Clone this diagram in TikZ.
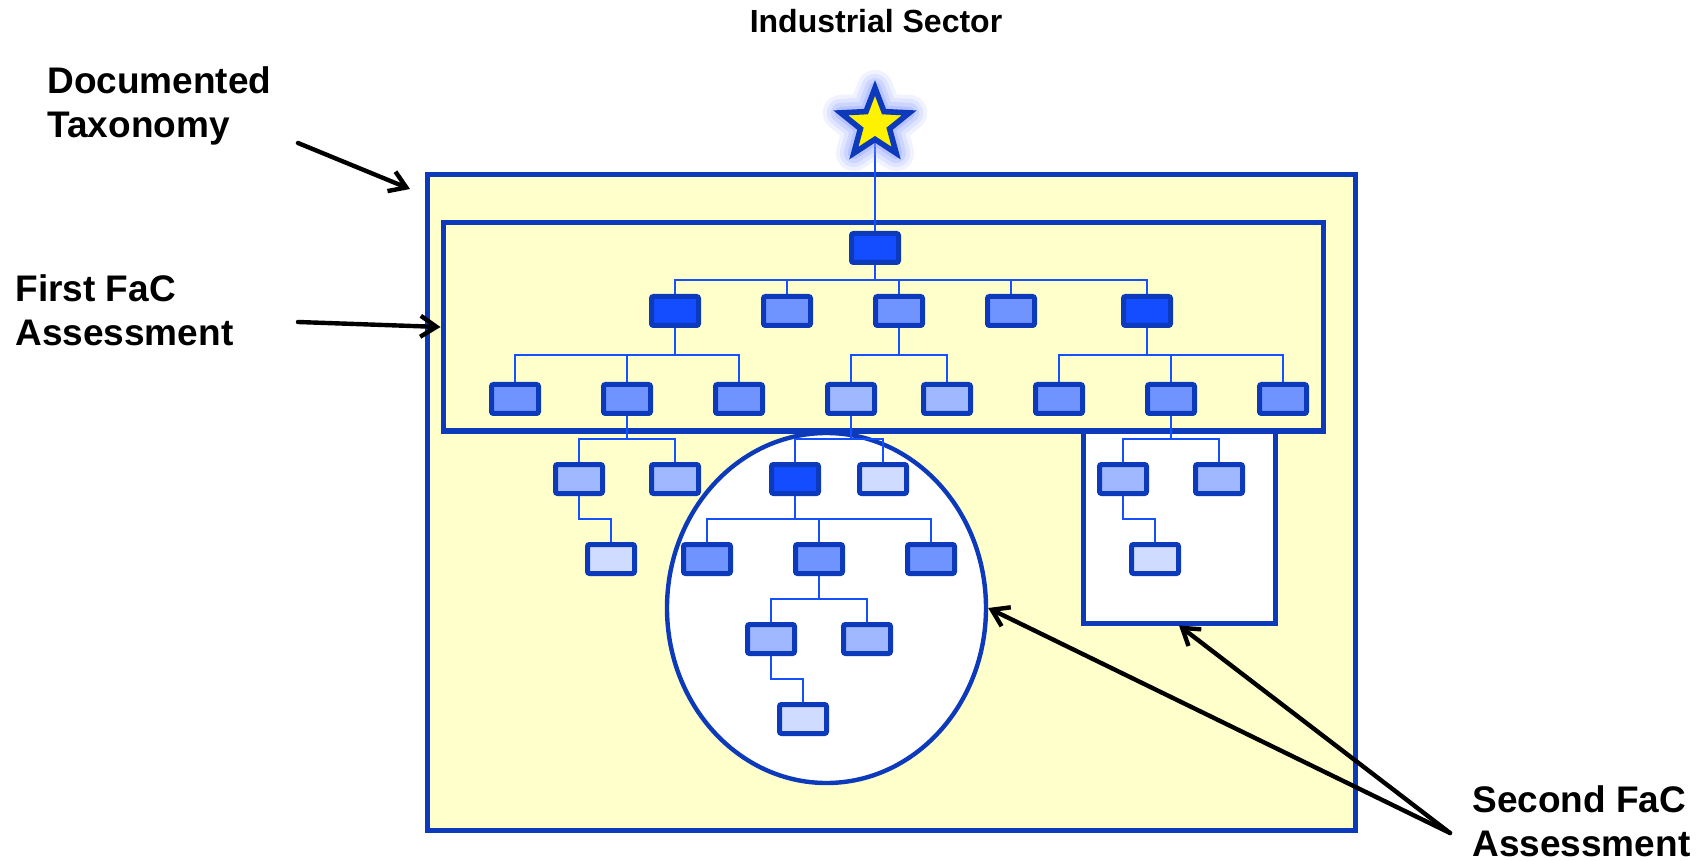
\documentclass[tikz,border=0pt]{standalone}
\usepackage{fontspec}
\setmainfont{Liberation Sans}
\usetikzlibrary{shapes.geometric,arrows.meta}

\definecolor{frameblue}{RGB}{12,58,186}
\definecolor{linkblue}{RGB}{20,80,255}
\definecolor{shadedark}{RGB}{20,76,255}
\definecolor{shademid}{RGB}{112,148,255}
\definecolor{shadelight}{RGB}{160,184,255}
\definecolor{shadepale}{RGB}{208,220,255}
\definecolor{paleyellow}{RGB}{255,255,204}
\definecolor{glowblue}{RGB}{135,155,255}

\tikzset{
	box/.style={draw=frameblue, line width=2.5pt, rounded corners=1pt, inner sep=0pt,
		minimum width=23.5pt, minimum height=14.5pt},
	boxdark/.style={box, fill=shadedark},
	boxmid/.style={box, fill=shademid},
	boxlight/.style={box, fill=shadelight},
	boxpale/.style={box, fill=shadepale},
	link/.style={draw=linkblue, line width=1pt},
	container/.style={draw=frameblue, line width=2.5pt, inner sep=0pt},
	note/.style={font=\fontsize{18.5}{22}\selectfont\bfseries, align=left, inner sep=0pt},
	pointer/.style={-{Straight Barb[length=8pt,width=10.5pt]}, line width=2.2pt, line cap=round, line join=round},
	starshape/.style={star, star points=5, star point ratio=2.35, minimum size=36pt, inner sep=0pt}
}

\begin{document}
\begin{tikzpicture}[x=0.5pt, y=-0.5pt]
		\useasboundingbox (0,0) rectangle (1704,861);

		% frames
		\node[container, fill=paleyellow, minimum width=464pt, minimum height=327.5pt] (taxo) at (891,502.5) {};
		\node[container, fill=white, minimum width=96pt, minimum height=96pt] (branch) at (1179,527) {};
		\node[container, ellipse, fill=white, line width=2.2pt, minimum width=159.5pt, minimum height=175pt] (subtree) at (826.5,608) {};
		\node[container, minimum width=440pt, minimum height=104pt] (first) at (883,327) {};

		% taxonomy boxes
		\node[boxdark] (root) at (875,248) {};
		\foreach \n/\x/\s in {a1/675/boxdark, a2/787/boxmid, a3/899/boxmid, a4/1011/boxmid, a5/1147/boxdark}
			\node[\s] (\n) at (\x,311) {};
		\foreach \n/\x/\s in {b1/515/boxmid, b2/627/boxmid, b3/739/boxmid, b4/851/boxlight,
				b5/947/boxlight, b6/1059/boxmid, b7/1171/boxmid, b8/1283/boxmid}
			\node[\s] (\n) at (\x,399) {};
		\foreach \n/\x/\s in {c1/579/boxlight, c2/675/boxlight, c3/795/boxdark, c4/883/boxpale,
				c5/1123/boxlight, c6/1219/boxlight}
			\node[\s] (\n) at (\x,479) {};
		\foreach \n/\x/\s in {d1/611/boxpale, d2/707/boxmid, d3/819/boxmid, d4/931/boxmid, d5/1155/boxpale}
			\node[\s] (\n) at (\x,559) {};
		\node[boxlight] (e1) at (771,639) {};
		\node[boxlight] (e2) at (867,639) {};
		\node[boxpale] (f1) at (803,719) {};

		% tree links
		\foreach \p/\c/\m in {root/a1/280, root/a2/280, root/a3/280, root/a4/280, root/a5/280,
				a1/b1/355, a1/b2/355, a1/b3/355, a3/b4/355, a3/b5/355, a5/b6/355, a5/b7/355, a5/b8/355,
				b2/c1/439, b2/c2/439, b4/c3/439, b4/c4/439, b7/c5/439, b7/c6/439,
				c1/d1/519, c3/d2/519, c3/d3/519, c3/d4/519, c5/d5/519,
				d3/e1/599, d3/e2/599, e1/f1/679}
			\draw[link] (\p.south) -- (\p.south |- 0,\m) -| (\c.north);

		% industrial sector star
		\coordinate (sector) at (875,124);
		\draw[link] (sector) -- (root);
		\foreach \w/\o in {18/0.12, 14/0.16, 10/0.22, 6/0.3}
			\node[starshape, draw=glowblue, draw opacity=\o, line width=\w pt, line join=round] at (sector) {};
		\node[starshape, draw=frameblue, fill=yellow, line width=2.8pt] (sectorstar) at (sector) {};
		\node[font=\fontsize{16}{19}\selectfont\bfseries, anchor=base] (sectorlabel) at (876,33) {Industrial Sector};

		% side labels
		\node[note, anchor=north west] (doc) at (47,66) {Documented\\Taxonomy};
		\node[note, anchor=north west] (firstlabel) at (15,274) {First FaC\\Assessment};
		\node[note, anchor=north west] (secondlabel) at (1472,785) {Second FaC\\Assessment};

		\coordinate (doctail) at (298,143);
		\coordinate (doctip) at (410,189);
		\coordinate (firsttail) at (298,322);
		\coordinate (secondtail) at (1450,833);
		\draw[pointer] (doctail) -- (doctip);
		\draw[pointer] (firsttail) -- (first.west);
		\draw[pointer] (secondtail) -- (subtree.east);
		\draw[pointer] (secondtail) -- (branch.south);

	\end{tikzpicture}
\end{document}
